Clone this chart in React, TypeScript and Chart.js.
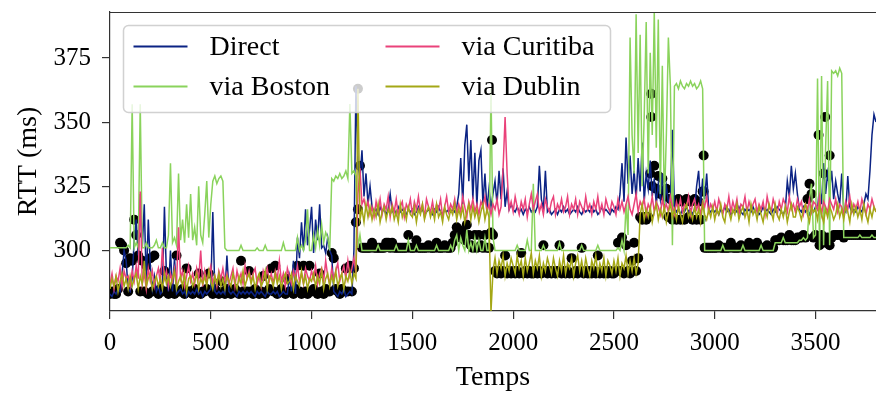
import React, { useEffect, useRef } from 'react';
import { Chart, registerables } from 'chart.js';

Chart.register(...registerables);

// sampling period of the measurement (time units between samples)
const STEP = 10;

const X_TICKS = [0, 500, 1000, 1500, 2000, 2500, 3000, 3500];
const Y_TICKS = [300, 325, 350, 375];
const X_TITLE = 'Temps';
const Y_TITLE = 'RTT (ms)';

const SERIES_NAMES = ['Direct', 'via Boston', 'via Curitiba', 'via Dublin'];
const SERIES_COLORS = ['#0b2384', '#8ad35c', '#ea427a', '#a4a716'];

// RTT (ms), one value every STEP from t = 0 to t = 3800
const DIRECT = [
  283, 282, 284, 283, 285, 284, 291, 300, 296, 285,
  284, 289, 304, 312, 298, 322, 301, 318, 287, 312,
  294, 285, 290, 284, 286, 283, 284, 317, 290, 284,
  300, 284, 297, 283, 284, 285, 283, 284, 282, 284,
  283, 284, 283, 285, 283, 284, 282, 284, 283, 284,
  285, 315, 284, 283, 284, 283, 284, 283, 298, 284,
  283, 284, 283, 282, 284, 283, 284, 283, 284, 283,
  284, 283, 282, 284, 283, 284, 283, 282, 284, 283,
  283, 284, 283, 284, 282, 283, 284, 283, 283, 290,
  284, 296, 283, 305, 297, 311, 300, 316, 302, 308,
  317, 299, 312, 304, 318, 301, 302, 299, 305, 300,
  298, 284, 283, 282, 284, 283, 285, 282, 283, 284,
  283, 300, 364, 334, 328, 339, 321, 330, 318, 325,
  317, 315, 316, 314, 317, 315, 316, 314, 316, 322,
  315, 316, 314, 317, 315, 316, 315, 314, 316, 315,
  316, 314, 315, 317, 315, 316, 314, 315, 316, 315,
  314, 316, 315, 317, 315, 314, 316, 315, 316, 315,
  316, 315, 317, 322, 336, 318, 341, 349, 327, 343,
  320, 338, 317, 335, 339, 318, 330, 316, 324, 317,
  322, 327, 318, 331, 320, 332, 317, 323, 316, 318,
  316, 315, 317, 315, 316, 314, 316, 315, 317, 315,
  316, 315, 317, 333, 320, 316, 331, 315, 316, 314,
  315, 316, 314, 316, 315, 317, 315, 316, 314, 315,
  316, 315, 317, 315, 314, 316, 315, 316, 315, 317,
  315, 316, 314, 315, 317, 315, 316, 315, 314, 316,
  315, 317, 316, 322, 334, 319, 344, 326, 337, 322,
  331, 320, 336, 323, 342, 319, 330, 324, 335, 321,
  328, 318, 326, 320, 330, 317, 325, 319, 320, 347,
  317, 315, 316, 314, 316, 315, 317, 315, 316, 314,
  316, 325, 331, 318, 328, 320, 330, 316, 315, 316,
  315, 316, 314, 316, 315, 317, 315, 316, 314, 315,
  316, 315, 317, 315, 314, 316, 315, 316, 315, 317,
  315, 316, 314, 315, 317, 315, 316, 315, 314, 316,
  315, 317, 316, 315, 314, 316, 327, 321, 333, 324,
  330, 322, 316, 315, 317, 315, 316, 314, 316, 315,
  317, 316, 325, 318, 334, 322, 330, 324, 331, 320,
  327, 322, 318, 330, 316, 315, 329, 317, 315, 316,
  315, 317, 316, 315, 318, 322, 320, 331, 345, 353,
  350,
];

const VIA_BOSTON = [
  301, 301, 301, 301, 301, 301, 301, 301, 301, 302,
  301, 357, 301, 303, 301, 357, 301, 301, 303, 301,
  301, 301, 302, 304, 301, 301, 303, 301, 301, 306,
  334, 303, 305, 302, 330, 304, 312, 303, 318, 305,
  322, 304, 309, 302, 325, 306, 303, 314, 327, 305,
  318, 327, 329, 326, 328, 329, 327, 301, 300, 300,
  300, 300, 300, 300, 300, 302, 300, 300, 300, 300,
  300, 300, 300, 301, 300, 300, 300, 302, 300, 300,
  300, 300, 300, 300, 300, 300, 303, 300, 300, 300,
  300, 300, 300, 305, 300, 302, 300, 304, 316, 300,
  300, 306, 301, 308, 302, 310, 303, 307, 305, 300,
  328, 327, 329, 328, 330, 328, 329, 331, 328, 357,
  330, 331, 329, 301, 306, 300, 300, 300, 300, 300,
  300, 300, 300, 302, 300, 300, 300, 300, 300, 300,
  300, 300, 302, 300, 300, 300, 300, 300, 304, 300,
  300, 300, 302, 300, 300, 300, 300, 300, 300, 300,
  300, 300, 302, 300, 300, 300, 300, 300, 300, 302,
  300, 304, 306, 300, 305, 302, 300, 308, 300, 303,
  300, 305, 300, 304, 300, 300, 305, 300, 300, 363,
  305, 300, 300, 300, 300, 300, 300, 300, 300, 300,
  300, 300, 302, 300, 300, 300, 300, 304, 300, 300,
  326, 300, 300, 300, 300, 302, 300, 300, 300, 300,
  300, 300, 300, 303, 300, 300, 300, 300, 300, 300,
  300, 300, 300, 300, 302, 300, 300, 300, 300, 300,
  300, 300, 302, 300, 300, 300, 300, 300, 300, 300,
  300, 300, 301, 300, 304, 300, 318, 306, 383, 345,
  330, 392, 338, 384, 325, 352, 389, 330, 377, 345,
  393, 340, 390, 322, 372, 318, 345, 383, 364, 302,
  364, 365, 363, 366, 364, 363, 365, 364, 366, 364,
  365, 363, 364, 366, 363, 300, 300, 300, 300, 300,
  300, 300, 300, 300, 302, 300, 300, 300, 300, 300,
  300, 300, 300, 300, 302, 300, 300, 300, 300, 300,
  300, 300, 300, 302, 300, 300, 300, 300, 300, 300,
  303, 303, 303, 303, 305, 303, 303, 303, 303, 303,
  303, 303, 304, 304, 305, 304, 305, 320, 326, 305,
  306, 367, 300, 368, 302, 340, 366, 302, 370, 369,
  370, 368, 371, 369, 305, 305, 305, 305, 305, 305,
  305, 305, 306, 305, 305, 305, 305, 305, 306, 305,
  305,
];

const VIA_CURITIBA = [
  287, 291, 285, 290, 288, 293, 286, 292, 289, 290,
  286, 292, 288, 294, 289, 323, 287, 291, 285, 293,
  288, 292, 286, 290, 293, 287, 301, 289, 292, 286,
  291, 288, 293, 287, 309, 289, 292, 286, 290, 294,
  288, 291, 287, 293, 289, 300, 286, 292, 288, 291,
  294, 287, 290, 286, 292, 289, 293, 288, 291, 287,
  290, 293, 286, 292, 288, 291, 287, 294, 289, 292,
  288, 291, 293, 287, 290, 286, 292, 289, 293, 288,
  291, 287, 292, 289, 296, 288, 291, 286, 293, 290,
  287, 292, 289, 294, 288, 291, 287, 293, 290, 288,
  292, 289, 294, 287, 291, 293, 288, 296, 290, 287,
  293, 289, 292, 295, 288, 291, 294, 289, 296, 290,
  293, 297, 291, 322, 332, 318, 320, 316, 319, 314,
  317, 313, 319, 315, 320, 314, 318, 316, 321, 313,
  318, 315, 320, 314, 317, 319, 313, 318, 316, 320,
  314, 319, 316, 321, 315, 318, 313, 320, 317, 315,
  319, 314, 318, 316, 320, 313, 317, 321, 315, 318,
  316, 320, 314, 318, 315, 321, 317, 313, 319, 316,
  320, 315, 318, 314, 319, 317, 321, 315, 318, 314,
  318, 316, 320, 314, 317, 332, 352, 330, 316, 319,
  315, 321, 317, 314, 319, 316, 320, 313, 318, 322,
  316, 319, 322, 315, 318, 314, 320, 317, 315, 319,
  321, 314, 318, 316, 320, 315, 317, 321, 314, 318,
  316, 320, 314, 319, 317, 315, 321, 316, 318, 314,
  319, 316, 321, 315, 318, 314, 320, 317, 315, 319,
  317, 314, 320, 316, 319, 315, 318, 321, 316, 314,
  318, 322, 315, 319, 317, 320, 314, 318, 316, 321,
  315, 319, 317, 314, 320, 316, 318, 315, 321, 317,
  314, 319, 316, 320, 315, 318, 317, 321, 314, 318,
  320, 316, 318, 314, 319, 317, 321, 315, 318, 316,
  319, 315, 320, 317, 314, 318, 316, 321, 315, 319,
  316, 320, 314, 318, 317, 321, 315, 319, 316, 318,
  320, 315, 318, 316, 319, 314, 321, 317, 315, 320,
  317, 314, 319, 316, 320, 318, 315, 321, 316, 318,
  315, 320, 317, 319, 314, 318, 316, 320, 315, 319,
  318, 316, 321, 314, 319, 317, 315, 320, 318, 316,
  320, 315, 318, 317, 314, 319, 316, 321, 315, 318,
  316, 319, 315, 320, 317, 314, 318, 316, 320, 317,
  315,
];

const VIA_DUBLIN = [
  285, 289, 286, 290, 284, 288, 291, 286, 289, 285,
  290, 286, 289, 291, 285, 290, 287, 296, 286, 289,
  291, 285, 288, 290, 286, 289, 285, 291, 287, 290,
  286, 289, 292, 285, 288, 290, 286, 291, 284, 289,
  290, 286, 288, 291, 285, 289, 287, 290, 286, 292,
  288, 285, 290, 287, 291, 286, 289, 285, 290, 288,
  286, 291, 288, 285, 290, 287, 292, 286, 289, 291,
  287, 290, 285, 289, 291, 286, 288, 292, 285, 290,
  289, 286, 291, 287, 290, 285, 289, 291, 287, 288,
  291, 285, 290, 288, 286, 292, 287, 290, 285, 289,
  288, 291, 286, 290, 287, 292, 285, 289, 291, 286,
  290, 287, 292, 286, 289, 291, 285, 290, 288, 292,
  287, 291, 289, 363, 312, 316, 311, 318, 313, 317,
  312, 316, 313, 318, 311, 315, 317, 312, 316, 314,
  317, 312, 315, 311, 318, 313, 316, 312, 317, 314,
  313, 317, 311, 316, 314, 318, 312, 315, 317, 313,
  316, 312, 318, 313, 315, 311, 317, 314, 312, 316,
  314, 318, 312, 316, 313, 317, 311, 315, 318, 312,
  317, 313, 316, 311, 315, 318, 312, 316, 313, 276,
  292, 297, 291, 296, 293, 298, 290, 295, 292, 297,
  294, 291, 298, 293, 296, 290, 297, 292, 295, 299,
  291, 296, 293, 298, 290, 295, 292, 297, 294, 291,
  297, 293, 290, 296, 292, 298, 291, 295, 293, 297,
  290, 295, 298, 292, 296, 291, 297, 293, 290, 296,
  293, 298, 291, 295, 292, 297, 290, 296, 294, 291,
  296, 292, 297, 290, 295, 293, 298, 291, 296, 292,
  297, 291, 295, 314, 318, 312, 316, 313, 317, 311,
  315, 318, 312, 316, 313, 317, 311, 315, 318, 313,
  316, 312, 317, 314, 311, 316, 318, 313, 315, 312,
  317, 313, 316, 311, 318, 314, 312, 316, 313, 317,
  312, 316, 314, 318, 313, 311, 317, 315, 312, 316,
  314, 318, 312, 315, 317, 313, 316, 311, 318, 314,
  316, 312, 317, 314, 311, 316, 313, 318, 315, 312,
  318, 314, 312, 316, 313, 317, 311, 315, 318, 313,
  313, 317, 315, 312, 316, 318, 314, 311, 317, 315,
  316, 312, 318, 314, 311, 316, 313, 317, 315, 312,
  314, 318, 313, 316, 312, 317, 315, 311, 318, 314,
  317, 313, 316, 312, 318, 314, 311, 316, 313, 317,
  315,
];

// best path RTT (black markers)
const BEST = [
  283, 284, 283, 283, 285, 303, 302, 300, 295, 284,
  297, 296, 312, 306, 298, 284, 296, 284, 294, 283,
  297, 284, 298, 284, 283, 285, 284, 292, 284, 283,
  284, 285, 283, 298, 284, 284, 285, 283, 293, 284,
  284, 283, 285, 284, 291, 283, 284, 284, 285, 291,
  284, 283, 285, 284, 283, 288, 284, 283, 285, 284,
  283, 284, 285, 284, 283, 296, 284, 283, 284, 292,
  284, 283, 285, 284, 283, 284, 290, 283, 284, 285,
  293, 284, 294, 283, 284, 285, 284, 283, 289, 284,
  284, 283, 285, 294, 284, 283, 294, 284, 283, 294,
  284, 285, 284, 283, 291, 284, 283, 285, 284, 284,
  299, 297, 285, 284, 283, 285, 284, 293, 284, 294,
  284, 293, 311, 316, 333, 301, 301, 301, 301, 301,
  303, 301, 301, 301, 301, 301, 301, 303, 303, 301,
  303, 301, 301, 301, 301, 301, 301, 301, 306, 301,
  301, 301, 304, 301, 301, 301, 301, 301, 302, 301,
  301, 301, 303, 301, 301, 301, 302, 301, 301, 301,
  303, 306, 309, 308, 305, 307, 304, 310, 306, 302,
  301, 306, 301, 306, 302, 301, 306, 301, 301, 307,
  306, 292, 291, 292, 291, 292, 298, 291, 292, 291,
  292, 291, 292, 291, 299, 291, 292, 291, 292, 291,
  291, 292, 291, 292, 291, 302, 292, 291, 292, 291,
  292, 291, 292, 302, 291, 292, 291, 292, 291, 297,
  291, 292, 291, 292, 301, 291, 292, 291, 292, 291,
  292, 291, 298, 291, 292, 291, 292, 291, 292, 291,
  291, 292, 303, 292, 305, 291, 302, 292, 291, 296,
  303, 292, 297, 313, 312, 313, 312, 313, 330, 325,
  333, 324, 329, 322, 328, 321, 324, 313, 320, 312,
  319, 312, 320, 312, 319, 312, 320, 313, 319, 312,
  320, 312, 319, 312, 323, 301, 301, 301, 301, 301,
  301, 301, 302, 301, 301, 301, 301, 301, 303, 301,
  301, 301, 301, 302, 301, 301, 301, 303, 301, 301,
  301, 303, 301, 301, 301, 301, 302, 301, 301, 301,
  304, 304, 304, 305, 304, 304, 304, 306, 304, 304,
  304, 305, 305, 305, 306, 305, 320, 326, 322, 305,
  306, 305, 302, 306, 330, 303, 305, 302, 305, 306,
  306, 306, 306, 306, 305, 306, 306, 306, 306, 306,
  306, 306, 306, 306, 306, 306, 306, 306, 306, 306,
  306,
];

// isolated best-path samples
const BEST_OUTLIER_T = [1230, 1895, 2685, 2685, 2945, 2945, 3515, 3548, 3570];
const BEST_OUTLIER_RTT = [363, 343, 352, 361, 337, 323, 345, 352, 337];

const FONT_FAMILY = "'Liberation Serif', 'Times New Roman', serif";
const AXIS_COLOR = '#333333';
const BEST_RADIUS = 5;

const toPoints = (values: number[]) => values.map((v, i) => ({ x: i * STEP, y: v }));

// black "best path" markers, placed with the chart's own x / y scales, under the lines
const bestMarkersPlugin = {
  id: 'bestMarkers',
  beforeDatasetsDraw(chart: any) {
    const { ctx, chartArea, scales } = chart;
    const pts = toPoints(BEST).concat(
      BEST_OUTLIER_T.map((t, i) => ({ x: t, y: BEST_OUTLIER_RTT[i] }))
    );
    ctx.save();
    ctx.beginPath();
    ctx.rect(chartArea.left, chartArea.top, chartArea.right - chartArea.left, chartArea.bottom - chartArea.top);
    ctx.clip();
    ctx.fillStyle = '#000';
    pts.forEach((p) => {
      const px = scales.x.getPixelForValue(p.x);
      const py = scales.y.getPixelForValue(p.y);
      ctx.beginPath();
      ctx.arc(px, py, BEST_RADIUS, 0, Math.PI * 2);
      ctx.fill();
    });
    ctx.restore();
  },
};

const framePlugin = {
  id: 'frameAndLegend',
  afterDatasetsDraw(chart: any) {
    const { ctx, chartArea } = chart;
    ctx.save();
    // top spine
    ctx.strokeStyle = AXIS_COLOR;
    ctx.lineWidth = 1.2;
    ctx.beginPath();
    ctx.moveTo(chartArea.left, chartArea.top + 0.5);
    ctx.lineTo(chartArea.right, chartArea.top + 0.5);
    ctx.stroke();

    // legend box
    const bx = chartArea.left + 13.5;
    const by = chartArea.top + 13.5;
    const bw = 487;
    const bh = 87;
    ctx.beginPath();
    if (ctx.roundRect) ctx.roundRect(bx, by, bw, bh, 5);
    else ctx.rect(bx, by, bw, bh);
    ctx.fillStyle = 'rgba(255,255,255,0.8)';
    ctx.fill();
    ctx.strokeStyle = 'rgba(204,204,204,0.9)';
    ctx.lineWidth = 1.5;
    ctx.stroke();

    const colX = [bx + 10, bx + 262];
    const rowY = [by + 21, by + 61];
    ctx.font = `28px ${FONT_FAMILY}`;
    ctx.textBaseline = 'middle';
    ctx.textAlign = 'left';
    SERIES_NAMES.forEach((name, i) => {
      const col = i < 2 ? 0 : 1;
      const row = i % 2;
      const x = colX[col];
      const y = rowY[row];
      ctx.strokeStyle = SERIES_COLORS[i];
      ctx.lineWidth = 1.8;
      ctx.beginPath();
      ctx.moveTo(x, y);
      ctx.lineTo(x + 54, y);
      ctx.stroke();
      ctx.fillStyle = '#000';
      ctx.fillText(name, x + 76, y + 1);
    });
    ctx.restore();
  },
};

export default function App() {
  const canvasRef = useRef<HTMLCanvasElement | null>(null);

  useEffect(() => {
    if (!canvasRef.current) return;
    const series = [DIRECT, VIA_BOSTON, VIA_CURITIBA, VIA_DUBLIN];
    const chart = new Chart(canvasRef.current, {
      type: 'line',
      data: {
        datasets: series.map((vals, i) => ({
          label: SERIES_NAMES[i],
          data: toPoints(vals),
          borderColor: SERIES_COLORS[i],
          borderWidth: 1.5,
          pointRadius: 0,
          tension: 0,
          order: 4 - i,
        })),
      } as any,
      options: {
        animation: false,
        responsive: false,
        devicePixelRatio: 1,
        parsing: false,
        layout: { padding: { top: 12, right: 0, left: 0, bottom: 0 } },
        plugins: {
          legend: { display: false },
          tooltip: { enabled: false },
        },
        scales: {
          x: {
            type: 'linear',
            min: 0,
            max: 3800,
            afterFit: (s: any) => { s.height = 87; s.paddingLeft = 0; s.paddingRight = 0; },
            afterBuildTicks: (s: any) => { s.ticks = X_TICKS.map((v) => ({ value: v })); },
            ticks: {
              font: { family: FONT_FAMILY, size: 25 },
              color: '#000',
              padding: 9,
              maxRotation: 0,
              autoSkip: false,
              callback: (v: any) => String(v),
            },
            grid: { display: true, drawOnChartArea: false, drawTicks: true, tickLength: 8, color: AXIS_COLOR, lineWidth: 1.2 },
            border: { display: true, color: AXIS_COLOR, width: 1.2 },
            title: { display: true, text: X_TITLE, color: '#000', font: { family: FONT_FAMILY, size: 28 }, padding: { top: 0, bottom: 4 } },
          },
          y: {
            type: 'linear',
            min: 276.4,
            max: 392.9,
            afterFit: (s: any) => { s.width = 110; s.paddingTop = 0; s.paddingBottom = 0; },
            afterBuildTicks: (s: any) => { s.ticks = Y_TICKS.map((v) => ({ value: v })); },
            ticks: {
              font: { family: FONT_FAMILY, size: 25 },
              color: '#000',
              padding: 11,
              autoSkip: false,
              callback: (v: any) => String(v),
            },
            grid: { display: true, drawOnChartArea: false, drawTicks: true, tickLength: 8, color: AXIS_COLOR, lineWidth: 1.2 },
            border: { display: true, color: AXIS_COLOR, width: 1.2 },
            title: { display: true, text: Y_TITLE, color: '#000', font: { family: FONT_FAMILY, size: 28 }, padding: { top: 12, bottom: 0 } },
          },
        },
      } as any,
      plugins: [bestMarkersPlugin, framePlugin],
    });
    return () => chart.destroy();
  }, []);

  return (
    <canvas
      ref={canvasRef}
      width={876}
      height={398}
      style={{ position: 'absolute', left: 0, top: 0, width: 876, height: 398 }}
    />
  );
}
